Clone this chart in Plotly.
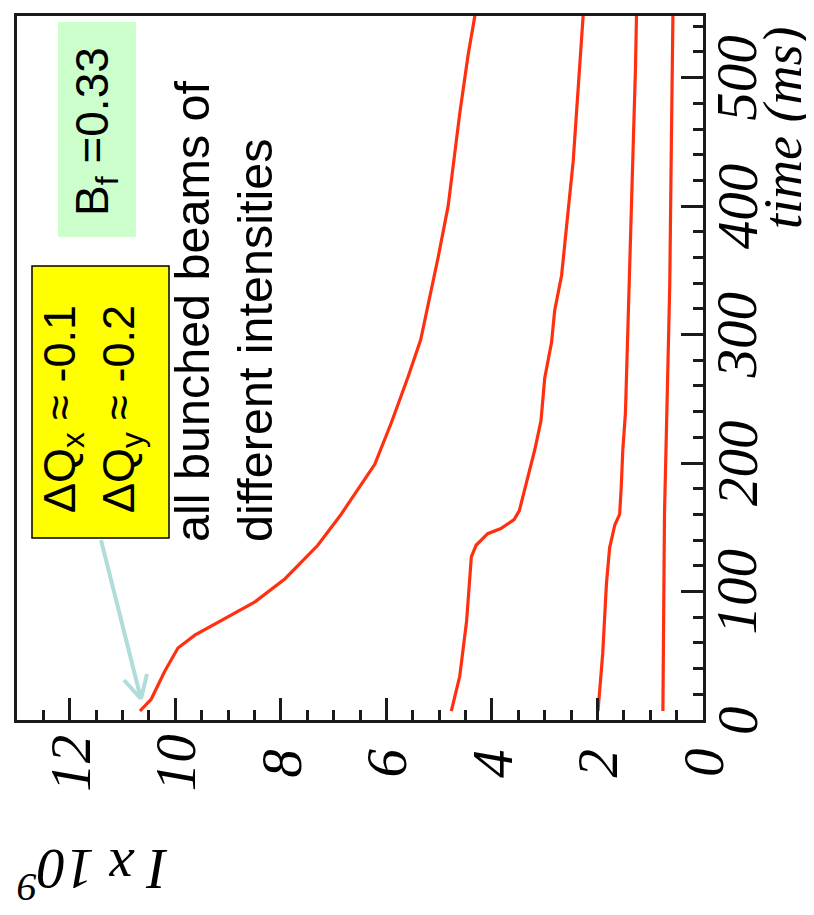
import plotly.graph_objects as go

# ---------------- data (time in ms, intensity I x 1e9) ----------------
time_1 = [7, 16, 38, 56, 66, 92, 110, 136, 160, 199, 231, 267, 296, 360, 400, 472, 518, 549]
intensity_1 = [10.67, 10.46, 10.20, 9.95, 9.63, 8.49, 7.92, 7.30, 6.86, 6.22, 5.91, 5.59, 5.35,
               5.02, 4.83, 4.61, 4.45, 4.32]

time_2 = [7, 34, 77, 117, 127, 136, 145, 149, 156, 163, 188, 210, 233, 266, 294, 319, 346,
          385, 410, 435, 471, 511, 549]
intensity_2 = [4.77, 4.61, 4.48, 4.42, 4.39, 4.30, 4.08, 3.83, 3.58, 3.48, 3.32, 3.19, 3.07,
               3.00, 2.87, 2.81, 2.68, 2.59, 2.53, 2.46, 2.40, 2.34, 2.27]

time_3 = [7, 52, 106, 134, 152, 160, 181, 210, 239, 285, 325, 375, 418, 465, 507, 549]
intensity_3 = [1.99, 1.90, 1.83, 1.77, 1.67, 1.58, 1.55, 1.52, 1.47, 1.44, 1.41, 1.38, 1.34,
               1.31, 1.28, 1.26]

time_4 = [7, 88, 160, 249, 339, 447, 549]
intensity_4 = [0.76, 0.74, 0.73, 0.68, 0.63, 0.60, 0.57]

intensity_ticks = [0, 2, 4, 6, 8, 10, 12]
intensity_labels = ["0", "2", "4", "6", "8", "10", "12"]
time_ticks = [0, 100, 200, 300, 400, 500]
time_labels = ["0", "100", "200", "300", "400", "500"]

series = [(time_1, intensity_1), (time_2, intensity_2), (time_3, intensity_3), (time_4, intensity_4)]

# ---------------- layout geometry (pixels) ----------------
W, H = 814, 915
PL, PT, PR, PB = 9, 8, 695, 712


def px(x):
    return (x - PL) / (PR - PL)


def py(y):
    return (PB - y) / (PB - PT)


RED = "#ff3010"
AXIS = "#1a1a1a"
SERIF = "Liberation Serif, Times New Roman, serif"
SANS = "Liberation Sans, Arial, sans-serif"
TICKFONT = dict(family=SERIF, size=57, color="black", style="italic")

fig = go.Figure()
for t, i in series:
    fig.add_trace(go.Scatter(x=i, y=t, mode="lines", line=dict(color=RED, width=3.2),
                             showlegend=False, hoverinfo="skip"))

fig.update_layout(
    width=W, height=H,
    margin=dict(l=PL, r=W - PR, t=PT, b=H - PB, pad=0, autoexpand=False),
    paper_bgcolor="white", plot_bgcolor="white",
    showlegend=False,
)

fig.update_xaxes(
    range=[13.0, 0], tickvals=intensity_ticks, showticklabels=False,
    ticks="inside", ticklen=22, tickwidth=3, tickcolor=AXIS,
    minor=dict(dtick=0.5, tick0=0, ticks="inside", ticklen=10, tickwidth=2.5, tickcolor=AXIS),
    showline=True, linewidth=3, linecolor=AXIS, mirror=True, automargin=False,
    showgrid=False, zeroline=False,
)
fig.update_yaxes(
    range=[0, 548], side="right", tickvals=time_ticks, showticklabels=False,
    ticks="inside", ticklen=22, tickwidth=3, tickcolor=AXIS,
    minor=dict(dtick=20, tick0=0, ticks="inside", ticklen=10, tickwidth=2.5, tickcolor=AXIS),
    showline=True, linewidth=3, linecolor=AXIS, mirror=True, automargin=False,
    showgrid=False, zeroline=False,
)

shapes = [
    # green box
    dict(type="rect", xref="paper", yref="paper", x0=px(50), x1=px(128), y0=py(229), y1=py(14),
         fillcolor="#ccffcc", line=dict(width=0), layer="above"),
    # yellow box
    dict(type="rect", xref="paper", yref="paper", x0=px(24), x1=px(161), y0=py(530), y1=py(258),
         fillcolor="#ffff00", line=dict(width=1.5, color="black"), layer="above"),
]
ARROW = "#b0dcdc"
tail = (93, 532)
tip = (133, 691)
for a, b in [(tail, tip), (tip, (139, 666)), (tip, (116, 672))]:
    shapes.append(dict(type="line", xref="paper", yref="paper",
                       x0=px(a[0]), y0=py(a[1]), x1=px(b[0]), y1=py(b[1]),
                       line=dict(color=ARROW, width=4), layer="above"))
fig.update_layout(shapes=shapes)

annotations = [
    dict(text="B<sub>f</sub> =0.33", x=px(87), y=py(124), textangle=-90,
         font=dict(family=SANS, size=46, color="black")),
    dict(text="ΔQ<sub>x</sub> ≈ -0.1<br>ΔQ<sub>y</sub> ≈ -0.2", x=px(84), y=py(401), textangle=-90,
         align="left", font=dict(family=SANS, size=45, color="black")),
    dict(text="all bunched beams of<br>different intensities", x=px(215), y=py(303), textangle=-90,
         align="left", font=dict(family=SANS, size=48.5, color="black")),
    dict(text="I x 10<sup>9</sup>", x=px(85), y=py(866), textangle=180,
         font=dict(family=SERIF, size=57, color="black", style="italic")),
    dict(text="time (ms)", x=px(775), y=py(120), textangle=-90,
         font=dict(family=SERIF, size=54, color="black", style="italic")),
]
for a in annotations:
    a.update(xref="paper", yref="paper")

# tick labels, placed through the axes' own scales
for v, lab in zip(intensity_ticks, intensity_labels):
    annotations.append(dict(text=lab, x=v, xref="x", y=py(755), yref="paper",
                            textangle=-90, font=TICKFONT))
for v, lab in zip(time_ticks, time_labels):
    annotations.append(dict(text=lab, x=px(729), xref="paper", y=v, yref="y",
                            textangle=-90, font=TICKFONT))

for a in annotations:
    a.update(xanchor="center", yanchor="middle", showarrow=False)
fig.update_layout(annotations=annotations)

fig.write_html("out.html")
